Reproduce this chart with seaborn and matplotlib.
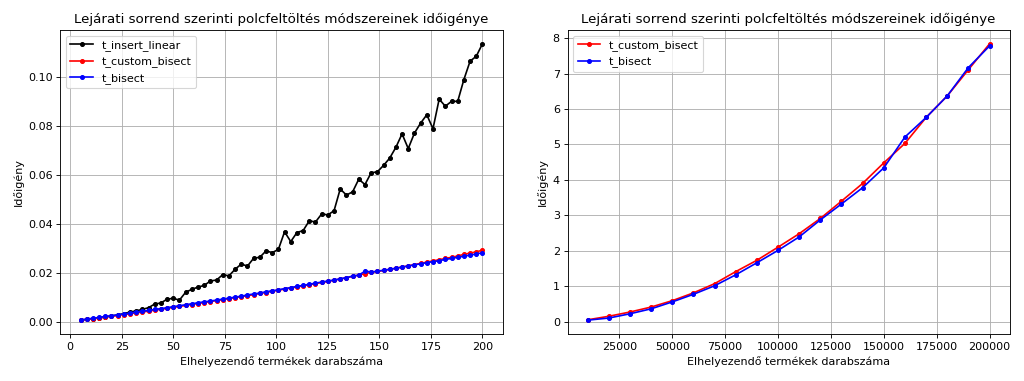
import numpy as np
import pandas as pd
import matplotlib
matplotlib.use("Agg")
import matplotlib.pyplot as plt
import seaborn as sns

# ---- left chart data ----
n_small = list(range(5, 201, 3))
t_insert_linear = [
    0.0006, 0.0009, 0.0012, 0.0015, 0.0019, 0.0023, 0.0027, 0.0033, 0.0039, 0.0044,
    0.0050, 0.0057, 0.0072, 0.0076, 0.0092, 0.0095, 0.0088, 0.0120, 0.0132, 0.0141,
    0.0148, 0.0166, 0.0170, 0.0192, 0.0187, 0.0214, 0.0235, 0.0227, 0.0259, 0.0263,
    0.0289, 0.0282, 0.0295, 0.0367, 0.0327, 0.0364, 0.0372, 0.0412, 0.0407, 0.0440,
    0.0436, 0.0453, 0.0542, 0.0517, 0.0530, 0.0582, 0.0560, 0.0608, 0.0612, 0.0638,
    0.0668, 0.0712, 0.0767, 0.0707, 0.0770, 0.0811, 0.0845, 0.0788, 0.0909, 0.0880,
    0.0900, 0.0900, 0.0989, 0.1064, 0.1084, 0.1135,
]
t_custom_bisect_small = [
    0.0006, 0.0009, 0.0012, 0.0015, 0.0019, 0.0022, 0.0025, 0.0029, 0.0032, 0.0036,
    0.0039, 0.0043, 0.0047, 0.0050, 0.0054, 0.0058, 0.0062, 0.0066, 0.0070, 0.0074,
    0.0078, 0.0082, 0.0086, 0.0090, 0.0094, 0.0098, 0.0102, 0.0106, 0.0110, 0.0115,
    0.0119, 0.0124, 0.0128, 0.0133, 0.0137, 0.0142, 0.0146, 0.0151, 0.0155, 0.0160,
    0.0164, 0.0169, 0.0174, 0.0179, 0.0185, 0.0190, 0.0196, 0.0201, 0.0205, 0.0209,
    0.0213, 0.0218, 0.0223, 0.0228, 0.0233, 0.0238, 0.0243, 0.0248, 0.0253, 0.0258,
    0.0263, 0.0268, 0.0275, 0.0280, 0.0285, 0.0292,
]
t_bisect_small = [
    0.0007, 0.0010, 0.0014, 0.0017, 0.0021, 0.0024, 0.0028, 0.0031, 0.0035, 0.0039,
    0.0042, 0.0046, 0.0050, 0.0053, 0.0057, 0.0061, 0.0065, 0.0069, 0.0073, 0.0077,
    0.0081, 0.0084, 0.0088, 0.0092, 0.0096, 0.0100, 0.0104, 0.0109, 0.0113, 0.0117,
    0.0122, 0.0126, 0.0130, 0.0135, 0.0139, 0.0144, 0.0148, 0.0153, 0.0157, 0.0162,
    0.0166, 0.0170, 0.0175, 0.0180, 0.0186, 0.0190, 0.0206, 0.0203, 0.0206, 0.0210,
    0.0214, 0.0218, 0.0223, 0.0227, 0.0232, 0.0236, 0.0241, 0.0245, 0.0249, 0.0254,
    0.0258, 0.0263, 0.0267, 0.0272, 0.0276, 0.0282,
]

# ---- right chart data ----
n_large = list(range(10000, 200001, 10000))
t_custom_bisect_large = [0.05, 0.15, 0.27, 0.41, 0.59, 0.81, 1.07, 1.41, 1.73, 2.10,
                         2.48, 2.91, 3.40, 3.90, 4.48, 5.03, 5.76, 6.37, 7.11, 7.84]
t_bisect_large = [0.04, 0.10, 0.22, 0.36, 0.555, 0.77, 1.01, 1.32, 1.66, 2.01,
                  2.39, 2.87, 3.32, 3.78, 4.34, 5.21, 5.76, 6.37, 7.17, 7.78]

title = "Lejárati sorrend szerinti polcfeltöltés módszereinek időigénye"
xlabel = "Elhelyezendő termékek darabszáma"
ylabel = "Időigény"

plt.rcParams['font.family'] = ['DejaVu Sans']

DPI = 80
fig, (ax1, ax2) = plt.subplots(1, 2, figsize=(1024 / DPI, 381 / DPI), dpi=DPI)
fig.subplots_adjust(left=0.059, right=0.986, bottom=0.1234, top=0.9213, wspace=0.147)

def draw(ax, x, y, color, label):
    sns.lineplot(x=x, y=y, ax=ax, color=color, marker='.', markersize=7,
                 markeredgecolor=color, markeredgewidth=1, linewidth=1.5, label=label)

draw(ax1, n_small, t_insert_linear, 'black', 't_insert_linear')
draw(ax1, n_small, t_custom_bisect_small, 'red', 't_custom_bisect')
draw(ax1, n_small, t_bisect_small, 'blue', 't_bisect')

draw(ax2, n_large, t_custom_bisect_large, 'red', 't_custom_bisect')
draw(ax2, n_large, t_bisect_large, 'blue', 't_bisect')

for ax in (ax1, ax2):
    ax.set_title(title, fontsize=12)
    ax.set_xlabel(xlabel)
    ax.set_ylabel(ylabel)
    ax.grid(True)
    ax.legend(loc='upper left')

ax1.set_xticks([0, 25, 50, 75, 100, 125, 150, 175, 200])
ax2.set_xticks([25000, 50000, 75000, 100000, 125000, 150000, 175000, 200000])

fig.savefig("out.png", dpi=DPI)
